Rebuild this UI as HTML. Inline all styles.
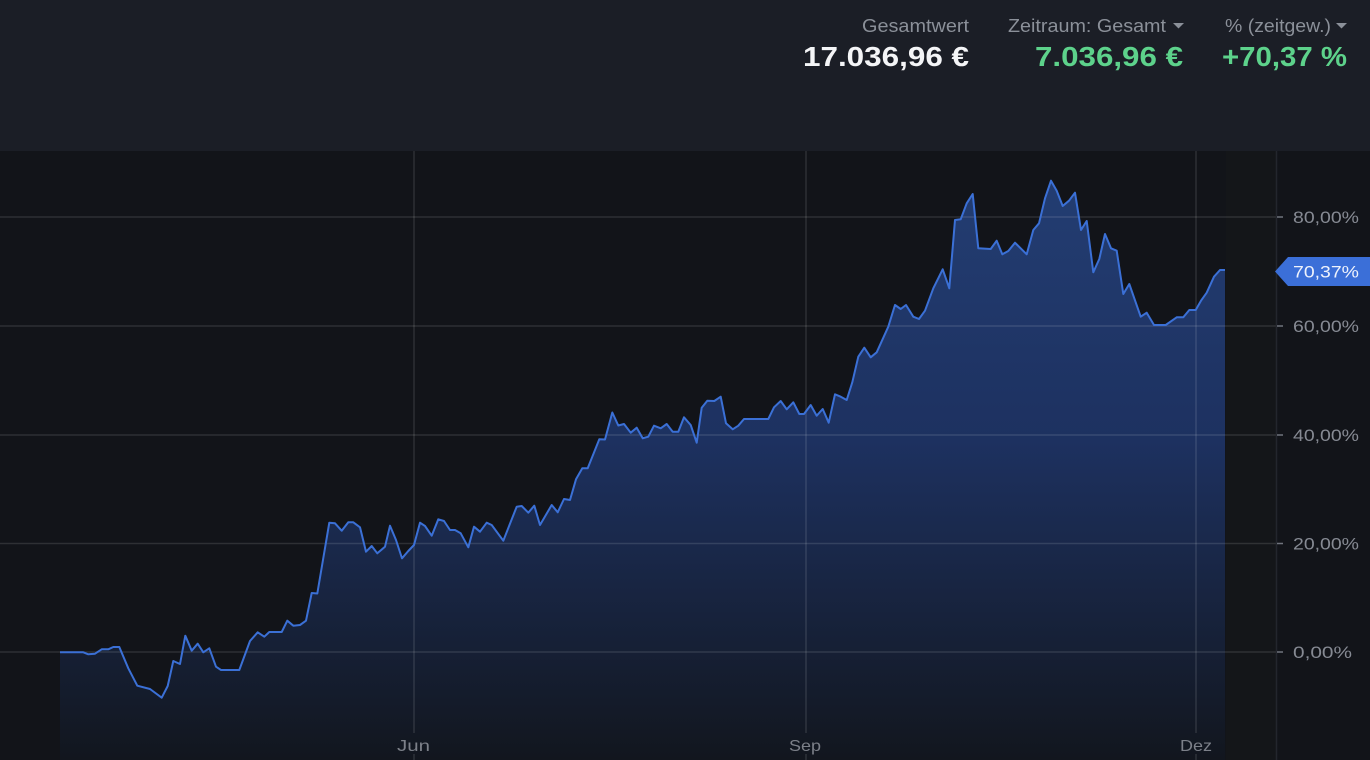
<!DOCTYPE html>
<html><head><meta charset="utf-8"><style>
html,body{margin:0;padding:0;background:#121419;}
svg{display:block;}
</style></head><body>
<svg width="1370" height="760" viewBox="0 0 1370 760" xmlns="http://www.w3.org/2000/svg" font-family="Liberation Sans, sans-serif">
<defs>
<linearGradient id="fg" gradientUnits="userSpaceOnUse" x1="0" y1="180" x2="0" y2="760">
<stop offset="0" stop-color="#233d72"/>
<stop offset="0.45" stop-color="#1d3160"/>
<stop offset="0.8" stop-color="#162036"/>
<stop offset="1" stop-color="#12161e"/>
</linearGradient>
</defs>
<rect x="0" y="0" width="1370" height="151" fill="#1b1e26"/>
<rect x="0" y="151" width="1370" height="609" fill="#121419"/>
<rect x="1226" y="151" width="50" height="609" fill="#141619"/>

<!-- header -->
<text x="862" y="32" font-size="18" fill="#8b9099" textLength="107" lengthAdjust="spacingAndGlyphs">Gesamtwert</text>
<text x="803" y="66" font-size="28" font-weight="bold" fill="#f4f5f7" textLength="166" lengthAdjust="spacingAndGlyphs">17.036,96 €</text>
<text x="1008" y="32" font-size="18" fill="#8b9099" textLength="158" lengthAdjust="spacingAndGlyphs">Zeitraum: Gesamt</text>
<polygon points="1173,23 1184,23 1178.5,28.5" fill="#8b9099"/>
<text x="1035" y="66" font-size="28" font-weight="bold" fill="#5dd28b" textLength="148" lengthAdjust="spacingAndGlyphs">7.036,96 €</text>
<text x="1225" y="32" font-size="18" fill="#8b9099" textLength="106" lengthAdjust="spacingAndGlyphs">% (zeitgew.)</text>
<polygon points="1336,23 1347,23 1341.5,28.5" fill="#8b9099"/>
<text x="1222" y="66" font-size="28" font-weight="bold" fill="#5dd28b" textLength="125" lengthAdjust="spacingAndGlyphs">+70,37 %</text>

<!-- fill -->
<polygon fill="url(#fg)" points="60,652.3 83.3,652.3 88.3,654.3 95,653.7 101.7,649.3 108.3,649.3 113.3,647 119.3,647 128.3,668.3 137.3,685.7 150,689 161.7,697.7 167.7,686 173.3,661 180,664 185.3,635.7 191.7,650.7 197.7,643.7 203.3,652.3 209.3,648.3 216,666.7 221,670 239.3,670 250,641 257.7,632.3 264.3,636.7 269.3,632 281.7,632 287.3,620.7 293.3,625.7 300,625 306,620.7 311.7,593 317.3,593.5 329.3,522.7 335,523.3 341.7,530.7 348.3,522.3 353.3,522.3 360,527.3 366,551.7 371.7,546 377.3,553.3 385,546.7 390,525.7 396,540 402,558.3 408.3,551 414,545 420,522.7 425,526 431.7,535.7 438.3,519.3 444,521 450,530 455,530 460.7,533.3 468.3,547.3 474,526.7 480,531.7 486.7,522.7 491.7,525 503.3,540.7 516.7,506.7 521.7,506 528.3,512.7 534.3,505.7 540,525 551.7,505 557.7,512.3 564,499 570,500 576,479.3 582.3,468.3 587.7,468.3 599.3,439.3 605,439.5 612.3,412.5 618.3,425.5 624,424 630.7,432.7 636.7,427.7 642.7,438.3 648.3,436.7 654,425.7 660.7,428.3 666.7,424 672.7,431.7 678.3,431.7 684,417.3 690.7,425 696.7,442.7 701.7,407.7 707.3,400.7 714.3,401 720.7,396.7 726,423.3 732.7,429.3 738.3,425.7 744,419 768.3,419 774,407.3 780.7,401 786.7,409.3 793.3,402.3 799.3,414 804,414 810.7,405 816.7,415.7 822.7,409 828.7,422.7 835,394.3 840.7,396.7 846.7,400 852.3,382.3 858.3,356.7 864.3,347.7 870.7,357.3 876.7,352.3 888.3,326.7 895,305 900.7,309 906,305 913.3,316.7 919,319 925,310.7 933.3,288.3 942.7,269.3 949.3,288.3 955,220 960.7,219.3 966.7,203.3 972.7,194 978.3,248.3 990.7,249 996.7,240.7 1002.3,254.3 1008.3,251 1015,242.7 1026.7,254.3 1033.3,230 1039,223.3 1045,198.3 1051,180.7 1056.7,190.7 1062.7,206 1069,200.7 1075,192.7 1081,230 1086.7,221 1093.3,272.3 1099.3,259 1105,234 1111,248.3 1116.7,250.7 1123.3,294 1129.3,284 1140.7,316.7 1146.7,312.7 1154,325 1165.7,325 1176.7,317.3 1183.3,317.3 1189.3,310 1195.7,310 1201,300.7 1206.7,292.7 1214,276.7 1220,270 1225,270 1225,760 60,760"/>

<!-- grid -->
<g stroke="rgba(255,255,255,0.12)" stroke-width="1.5">
<line x1="0" y1="217" x2="1276" y2="217"/>
<line x1="0" y1="326" x2="1276" y2="326"/>
<line x1="0" y1="435" x2="1276" y2="435"/>
<line x1="0" y1="543.5" x2="1276" y2="543.5"/>
<line x1="0" y1="652" x2="1276" y2="652"/>
<line x1="414" y1="151" x2="414" y2="733"/>
<line x1="806" y1="151" x2="806" y2="733"/>
<line x1="1196" y1="151" x2="1196" y2="733"/>
<line x1="414" y1="754" x2="414" y2="760"/>
<line x1="806" y1="754" x2="806" y2="760"/>
<line x1="1196" y1="754" x2="1196" y2="760"/>
</g>
<line x1="1276.5" y1="151" x2="1276.5" y2="760" stroke="#23262d" stroke-width="1.5"/>
<g stroke="#70747d" stroke-width="1.5">
<line x1="1277" y1="217" x2="1283" y2="217"/>
<line x1="1277" y1="326" x2="1283" y2="326"/>
<line x1="1277" y1="435" x2="1283" y2="435"/>
<line x1="1277" y1="543.5" x2="1283" y2="543.5"/>
<line x1="1277" y1="652" x2="1283" y2="652"/>
</g>

<!-- line -->
<polyline fill="none" stroke="#3b70d6" stroke-width="2" stroke-linejoin="round" points="60,652.3 83.3,652.3 88.3,654.3 95,653.7 101.7,649.3 108.3,649.3 113.3,647 119.3,647 128.3,668.3 137.3,685.7 150,689 161.7,697.7 167.7,686 173.3,661 180,664 185.3,635.7 191.7,650.7 197.7,643.7 203.3,652.3 209.3,648.3 216,666.7 221,670 239.3,670 250,641 257.7,632.3 264.3,636.7 269.3,632 281.7,632 287.3,620.7 293.3,625.7 300,625 306,620.7 311.7,593 317.3,593.5 329.3,522.7 335,523.3 341.7,530.7 348.3,522.3 353.3,522.3 360,527.3 366,551.7 371.7,546 377.3,553.3 385,546.7 390,525.7 396,540 402,558.3 408.3,551 414,545 420,522.7 425,526 431.7,535.7 438.3,519.3 444,521 450,530 455,530 460.7,533.3 468.3,547.3 474,526.7 480,531.7 486.7,522.7 491.7,525 503.3,540.7 516.7,506.7 521.7,506 528.3,512.7 534.3,505.7 540,525 551.7,505 557.7,512.3 564,499 570,500 576,479.3 582.3,468.3 587.7,468.3 599.3,439.3 605,439.5 612.3,412.5 618.3,425.5 624,424 630.7,432.7 636.7,427.7 642.7,438.3 648.3,436.7 654,425.7 660.7,428.3 666.7,424 672.7,431.7 678.3,431.7 684,417.3 690.7,425 696.7,442.7 701.7,407.7 707.3,400.7 714.3,401 720.7,396.7 726,423.3 732.7,429.3 738.3,425.7 744,419 768.3,419 774,407.3 780.7,401 786.7,409.3 793.3,402.3 799.3,414 804,414 810.7,405 816.7,415.7 822.7,409 828.7,422.7 835,394.3 840.7,396.7 846.7,400 852.3,382.3 858.3,356.7 864.3,347.7 870.7,357.3 876.7,352.3 888.3,326.7 895,305 900.7,309 906,305 913.3,316.7 919,319 925,310.7 933.3,288.3 942.7,269.3 949.3,288.3 955,220 960.7,219.3 966.7,203.3 972.7,194 978.3,248.3 990.7,249 996.7,240.7 1002.3,254.3 1008.3,251 1015,242.7 1026.7,254.3 1033.3,230 1039,223.3 1045,198.3 1051,180.7 1056.7,190.7 1062.7,206 1069,200.7 1075,192.7 1081,230 1086.7,221 1093.3,272.3 1099.3,259 1105,234 1111,248.3 1116.7,250.7 1123.3,294 1129.3,284 1140.7,316.7 1146.7,312.7 1154,325 1165.7,325 1176.7,317.3 1183.3,317.3 1189.3,310 1195.7,310 1201,300.7 1206.7,292.7 1214,276.7 1220,270 1225,270"/>

<!-- y labels -->
<g font-size="17" fill="#868a93">
<text x="1293" y="223" textLength="66" lengthAdjust="spacingAndGlyphs">80,00%</text>
<text x="1293" y="332" textLength="66" lengthAdjust="spacingAndGlyphs">60,00%</text>
<text x="1293" y="441" textLength="66" lengthAdjust="spacingAndGlyphs">40,00%</text>
<text x="1293" y="549.5" textLength="66" lengthAdjust="spacingAndGlyphs">20,00%</text>
<text x="1293" y="658" textLength="59" lengthAdjust="spacingAndGlyphs">0,00%</text>
</g>

<!-- badge -->
<polygon points="1275,271.5 1288,257 1370,257 1370,286 1288,286" fill="#3b6fd8"/>
<text x="1293" y="277.5" font-size="17" fill="#eef2fc" textLength="66" lengthAdjust="spacingAndGlyphs">70,37%</text>

<!-- x labels -->
<g font-size="16" fill="#7c8089">
<text x="397" y="751" textLength="33" lengthAdjust="spacingAndGlyphs">Jun</text>
<text x="789" y="751" textLength="32" lengthAdjust="spacingAndGlyphs">Sep</text>
<text x="1180" y="751" textLength="32" lengthAdjust="spacingAndGlyphs">Dez</text>
</g>
</svg>
</body></html>
